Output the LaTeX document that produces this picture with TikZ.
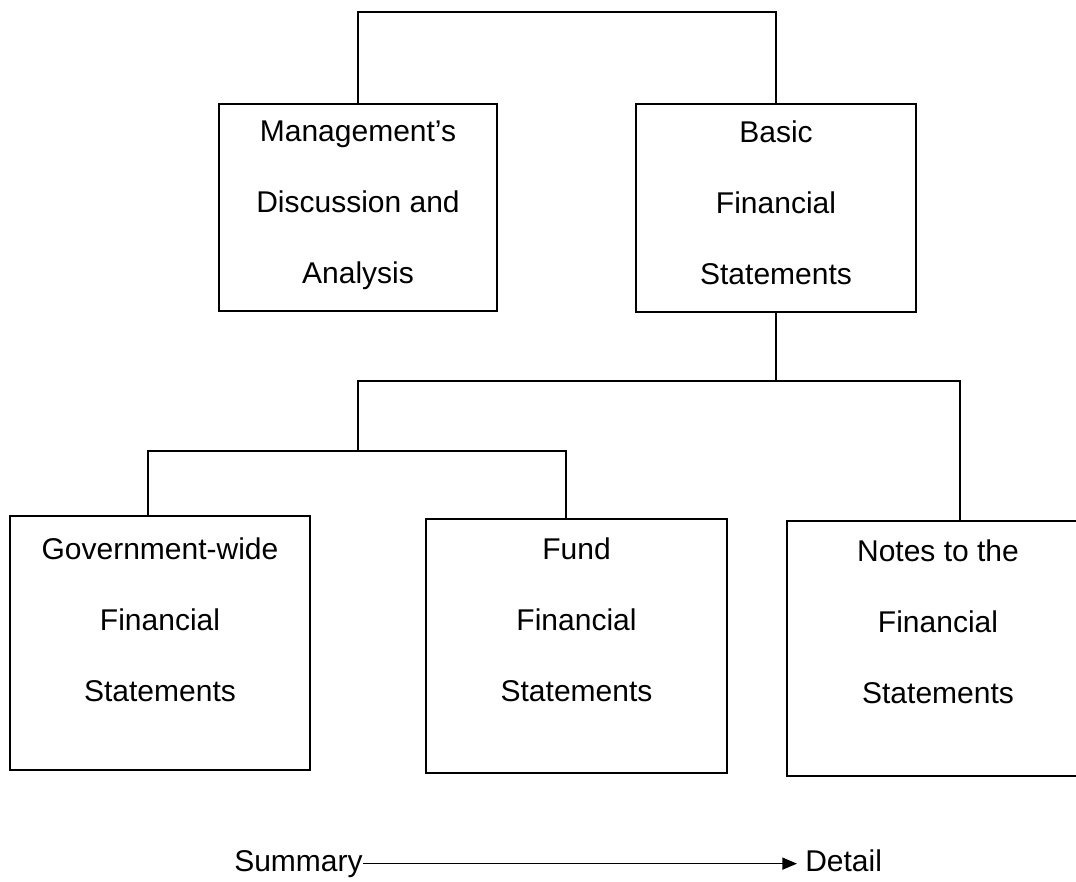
\documentclass[tikz,border=0pt]{standalone}
\usepackage{fontspec}
\setmainfont{Liberation Sans}
\usetikzlibrary{arrows.meta}
\begin{document}
\begin{tikzpicture}[x=0.75pt,y=-0.75pt,
  boxnode/.style={draw,rectangle,line width=1.6pt,inner sep=0pt},
  boxtext/.style={anchor=north,inner sep=0pt,align=center,font=\fontsize{22.5pt}{53.25pt}\selectfont},
  plaintext/.style={inner sep=0pt,font=\fontsize{22.5pt}{27pt}\selectfont},
  conn/.style={line width=1.6pt,line cap=rect}]
\useasboundingbox (0,0) rectangle (1076,882);
% boxes
\node[boxnode,minimum width=208.5pt,minimum height=155.25pt] (mda) at (358,207.5) {};
\node[boxnode,minimum width=210pt,minimum height=156pt] (bfs) at (776,208) {};
\node[boxnode,minimum width=225pt,minimum height=190.5pt] (gov) at (160,643) {};
\node[boxnode,minimum width=225.75pt,minimum height=190.5pt] (fund) at (576.5,646) {};
\node[boxnode,minimum width=227.25pt,minimum height=191.25pt] (notes) at (938.5,648.5) {};
% texts
\node[boxtext] (mdaT) at (358,120.5) {Management’s\\Discussion and\\Analysis};
\node[boxtext] (bfsT) at (776,120.5) {Basic\\Financial\\Statements};
\node[boxtext] (govT) at (160,537) {Government-wide\\Financial\\Statements};
\node[boxtext] (fundT) at (576.5,537) {Fund\\Financial\\Statements};
\node[boxtext] (notesT) at (938,539) {Notes to the\\Financial\\Statements};
% connector points
\coordinate (topbar) at (567,12);
\coordinate (b1L) at (358,381);
\coordinate (b1R) at (960,381);
\coordinate (b2L) at (148,451);
\coordinate (b2R) at (566,451);
% connectors
\draw[conn] (mda.north) |- (topbar) -| (bfs.north);
\draw[conn] (bfs.south) -- (bfs.south |- b1L);
\draw[conn] (b1L) -- (b1R) -- (b1R |- notes.north);
\draw[conn] (b1L) -- (b1L |- b2L);
\draw[conn] (b2L |- gov.north) -- (b2L) -- (b2R) -- (b2R |- fund.north);
% summary -> detail
\node[plaintext,anchor=base west] (summary) at (234,871) {Summary};
\node[plaintext,anchor=base west] (detail) at (805,871) {Detail};
\draw[line width=1.2pt,-{Triangle[length=11pt,width=9pt]}] (summary.east) -- ([xshift=-6pt]summary.east -| detail.west);
\end{tikzpicture}
\end{document}
